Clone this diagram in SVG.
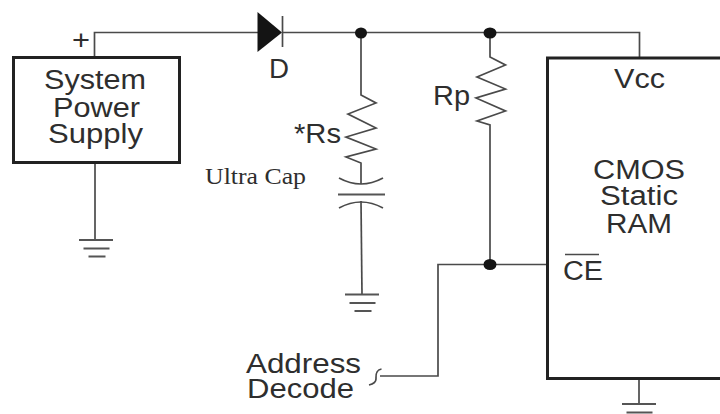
<svg xmlns="http://www.w3.org/2000/svg" width="720" height="414" viewBox="0 0 720 414">
  <style>
    .w { fill: none; stroke: #4a4a4a; stroke-width: 1.7; stroke-linejoin: miter; }
    .t { fill: none; stroke: #555; stroke-width: 2.200; }
    .b { fill: #fff; stroke: #222; stroke-width: 3; }
    .d { fill: #141414; stroke: none; }
    text { font-family: "Liberation Sans", Arial, sans-serif; font-size: 27px; fill: #2e2e2e; text-anchor: start; }
    .s { font-family: "Liberation Serif", "Times New Roman", serif; font-size: 23px; }
  </style>
  <defs>
    <path id="gnd" class="t" d="M-17 0H17M-12.500 8.500H13.500M-7.500 16.500H9.500"/>
  </defs>
  <rect width="720" height="414" fill="#fff"/>
  <g id="connectors">
    <path class="w" d="M94.500 57V32.500H258M282 32.500H639.500V57"/>
    <path class="w" d="M95 162V240"/>
    <path class="w" d="M361 33V95L376 103L348 114L376 128L346 137L376 149L346 157L361 163V184"/>
    <path class="w" d="M339 178Q361 190 383 178"/>
    <path class="t" d="M338 194.500H385"/>
    <path class="w" d="M339 208Q361 196 383 208"/>
    <path class="w" d="M361 201L362 295"/>
    <path class="w" d="M490 33V57L505.500 65L477 77L505.500 89L476 98L505.500 111L477 121L490 125V264.500"/>
    <path class="w" d="M547 264.500H438V376H380"/>
    <path class="w" d="M381.500 369C375 370 376 376 376 379C376 382 373 384 369 385"/>
    <path class="w" d="M639 379V404"/>
    <ellipse class="d" cx="361" cy="33" rx="6" ry="5.500"/>
    <ellipse class="d" cx="490" cy="33" rx="6.500" ry="5.500"/>
    <ellipse class="d" cx="490" cy="264.500" rx="6.500" ry="5.500"/>
    <use href="#gnd" x="96" y="240"/>
    <use href="#gnd" x="362" y="294.500"/>
    <use href="#gnd" x="639" y="404"/>
  </g>
  <g id="system-power-supply">
    <rect class="b" x="13.500" y="57.500" width="166" height="105"/>
    <text x="44" y="89" textLength="102" lengthAdjust="spacingAndGlyphs">System</text>
    <text x="53" y="116.500" textLength="87" lengthAdjust="spacingAndGlyphs">Power</text>
    <text x="48" y="143" textLength="95" lengthAdjust="spacingAndGlyphs">Supply</text>
    <text x="72" y="49" textLength="18" lengthAdjust="spacingAndGlyphs">+</text>
  </g>
  <g id="diode-d">
    <path class="d" d="M257.500 12L282 32.500L257.500 52Z"/>
    <path class="w" d="M282.500 16V47"/>
    <text x="269" y="77.500" textLength="20" lengthAdjust="spacingAndGlyphs">D</text>
  </g>
  <g id="rs">
    <text x="294" y="143" textLength="47" lengthAdjust="spacingAndGlyphs">*Rs</text>
  </g>
  <g id="ultra-cap">
    <text class="s" x="205" y="183.500" textLength="101" lengthAdjust="spacingAndGlyphs">Ultra Cap</text>
  </g>
  <g id="rp">
    <text x="433" y="105" textLength="37" lengthAdjust="spacingAndGlyphs">Rp</text>
  </g>
  <g id="cmos-static-ram">
    <path d="M722 58H547.500V378.500H722" fill="#fff" stroke="#222" stroke-width="3"/>
    <text x="614" y="87.500" textLength="51" lengthAdjust="spacingAndGlyphs">Vcc</text>
    <text x="593" y="179" textLength="92" lengthAdjust="spacingAndGlyphs">CMOS</text>
    <text x="600" y="205" textLength="78" lengthAdjust="spacingAndGlyphs">Static</text>
    <text x="606" y="232.500" textLength="66" lengthAdjust="spacingAndGlyphs">RAM</text>
    <text x="563" y="280" textLength="40" lengthAdjust="spacingAndGlyphs">CE</text>
    <path class="w" d="M565 254.500H599"/>
  </g>
  <g id="address-decode">
    <text x="246" y="373" textLength="115" lengthAdjust="spacingAndGlyphs">Address</text>
    <text x="247" y="397.500" textLength="107" lengthAdjust="spacingAndGlyphs">Decode</text>
  </g>
</svg>
